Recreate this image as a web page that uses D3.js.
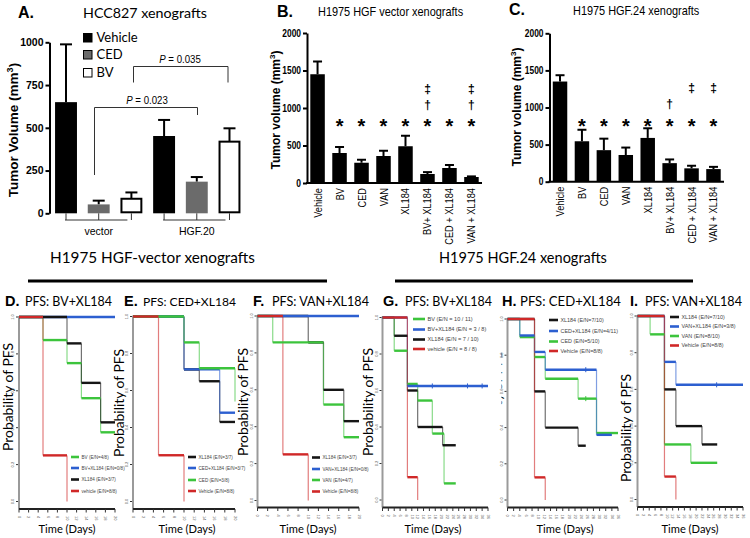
<!DOCTYPE html>
<html><head><meta charset="utf-8">
<script src="https://cdn.jsdelivr.net/npm/d3@7"></script>
<style>body{margin:0;background:#fff}svg{display:block}</style>
</head><body><svg id="c" width="750" height="538"></svg>
<script>
// ================= DATA =================
// Panel A
const aTreatments = ["Vehicle", "CED", "BV"];
const aGroups = ["vector", "HGF.20"];
const aVectorMean = [650, 52, 85];
const aVectorErr = [988, 74, 122];
const aHgfMean = [452, 185, 419];
const aHgfErr = [546, 212, 497];
const aTicks = [0, 250, 500, 750, 1000];
const aPValues = ["0.023", "0.035"];

// Panels B, C
const bcCategories = ["Vehicle", "BV", "CED", "VAN", "XL184", "BV+ XL184", "CED + XL184", "VAN + XL184"];
const bMean = [1450, 400, 270, 360, 490, 120, 200, 80];
const bErr = [1620, 480, 310, 430, 630, 145, 240, 88];
const cMean = [1350, 545, 425, 360, 590, 250, 180, 170];
const cErr = [1435, 700, 580, 460, 720, 300, 215, 200];
const bcTicks = [0, 500, 1000, 1500, 2000];
const bStar = [0, 1, 1, 1, 1, 1, 1, 1];
const bDagger = [0, 0, 0, 0, 0, 1, 0, 1];
const bDDagger = [0, 0, 0, 0, 0, 1, 0, 1];
const cStar = [0, 1, 1, 1, 1, 1, 1, 1];
const cDagger = [0, 0, 0, 0, 0, 1, 0, 0];
const cDDagger = [0, 0, 0, 0, 0, 0, 1, 1];

// Kaplan-Meier panels: [day, probability] step points
const kmTicks20 = [0, 2, 4, 6, 8, 10, 12, 14, 16, 18, 20];
const kmTicks36 = [0, 2, 4, 6, 8, 10, 12, 14, 16, 18, 20, 22, 24, 26, 28, 30, 32, 34, 36];
const kmYTicks = [0, 0.2, 0.4, 0.6, 0.8, 1.0];

const dBV = [[0, 1], [5, 0.875], [10, 0.75], [13, 0.56], [17, 0.375], [20, 0.375]];
const dBVXL = [[0, 1], [20, 1]];
const dXL = [[0, 1], [10, 0.857], [13, 0.643], [17, 0.429], [20, 0.429]];
const dVeh = [[0, 1], [5, 0.25], [10, 0]];
const dLegend = ["BV (E/N=4/8)", "BV+XL184 (E/N=0/8)", "XL184 (E/N=3/7)", "vehicle (E/N=8/8)"];

const eXL = [[0, 1], [10, 0.714], [13, 0.65], [17, 0.43], [20, 0.43]];
const eCEDXL = [[0, 1], [10, 0.714], [17, 0.48], [20, 0.48]];
const eCED = [[0, 1], [10, 0.86], [13, 0.72], [20, 0.54]];
const eVeh = [[0, 1], [5, 0.25], [10, 0]];
const eLegend = ["XL184 (E/N=3/7)", "CED+XL184 (E/N=3/7)", "CED (E/N=3/8)", "Vehicle (E/N=8/8)"];

const fXL = [[0, 1], [10, 0.857], [13, 0.6], [17, 0.43], [20, 0.43]];
const fVANXL = [[0, 1], [20, 1]];
const fVAN = [[0, 1], [3, 0.857], [13, 0.52], [17, 0.343], [20, 0.343]];
const fVeh = [[0, 1], [5, 0.25], [10, 0]];
const fLegend = ["XL184 (E/N=3/7)", "VAN+XL184 (E/N=0/8)", "VAN (E/N=4/7)", "Vehicle (E/N=8/8)"];

const gBV = [[0, 1], [4, 0.818], [8.5, 0.636], [12, 0.545], [17, 0.364], [21, 0.091], [25, 0.091]];
const gBVXL = [[0, 1], [8.5, 0.625], [36, 0.625]];
const gXL = [[0, 1], [4, 0.9], [8.5, 0.6], [12, 0.4], [20.5, 0.3], [25, 0.3]];
const gVeh = [[0, 1], [8.5, 0.125], [12, 0]];
const gCensorBVXL = [17, 29, 34];
const gLegend = ["BV (E/N = 10 / 11)", "BV+XL184 (E/N = 3 / 8)", "XL184 (E/N = 7 / 10)", "vehicle (E/N = 8 / 8)"];

const hXL = [[0, 1], [8.8, 0.6], [12.3, 0.4], [23, 0.3], [25.5, 0.3]];
const hCEDXL = [[0, 1], [4, 0.909], [8.8, 0.818], [12.3, 0.72], [29, 0.36], [34, 0.36]];
const hCED = [[0, 1], [4, 0.9], [8.8, 0.79], [12.3, 0.67], [23, 0.56], [29, 0.37], [36, 0.37]];
const hVeh = [[0, 1], [8.8, 0.125], [12.3, 0]];
const hCensorCEDXL = [25.5];
const hCensorCED = [25.5];
const hLegend = ["XL184 (E/N=7/10)", "CED+XL184 (E/N=4/11)", "CED (E/N=5/10)", "Vehicle (E/N=8/8)"];

const iXL = [[0, 1], [9.2, 0.6], [13.1, 0.4], [22, 0.3], [27.2, 0.3]];
const iVANXL = [[0, 1], [9.2, 0.75], [13.1, 0.625], [36, 0.625]];
const iVAN = [[0, 1], [4.3, 0.9], [9.2, 0.3], [18.2, 0.2], [27.2, 0.2]];
const iVeh = [[0, 1], [9.2, 0.125], [13.1, 0]];
const iCensorVANXL = [27];
const iLegend = ["XL184 (E/N=7/10)", "VAN+XL184 (E/N=3/8)", "VAN (E/N=8/10)", "Vehicle (E/N=8/8)"];

// ================= DRAWING =================
const ARIAL = "'Liberation Sans', Arial, sans-serif";
const NARROW = "'Liberation Sans Narrow', 'Arial Narrow', 'Liberation Sans', sans-serif";
const CAL = "Lato, 'Open Sans', sans-serif";
const GREEN = "#3cc43c", BLUE = "#2c5fd0", BLACK = "#151515", RED = "#d02828";

const svg = d3.select("#c");
svg.append("rect").attr("width", 750).attr("height", 538).attr("fill", "#fff");

// fit a text's font size so that its natural width equals target
function fit(t, target) {
  const fs = +t.attr("font-size");
  const w = t.node().getComputedTextLength();
  if (w > 0) t.attr("font-size", (fs * target / w).toFixed(2));
  return t;
}
// horizontal condensation (for the narrow font when it is missing)
let NARROW_FACTOR = 1;
(function () {
  const probe = svg.append("text").attr("font-family", NARROW).attr("font-size", 11).text("Vehicle");
  const w = probe.node().getComputedTextLength();
  NARROW_FACTOR = w > 31 ? 0.84 : 1;
  probe.remove();
})();
function condense(t) {
  if (NARROW_FACTOR < 1) {
    const w = t.node().getComputedTextLength();
    t.attr("textLength", (w * NARROW_FACTOR).toFixed(1)).attr("lengthAdjust", "spacingAndGlyphs");
  }
  return t;
}

function txt(g, x, y, s, o = {}) {
  const t = g.append("text").attr("x", x).attr("y", y).text(s)
    .attr("font-family", o.ff || ARIAL).attr("font-size", o.fs || 12)
    .attr("fill", o.fill || "#000");
  if (o.fw) t.attr("font-weight", o.fw);
  if (o.anchor) t.attr("text-anchor", o.anchor);
  if (o.fit) fit(t, o.fit);
  return t;
}
function vlabel(g, cx, cy, fs, o = {}) {
  return g.append("text").attr("transform", `translate(${cx + fs * 0.36},${cy}) rotate(-90)`)
    .attr("text-anchor", "middle").attr("font-family", o.ff || ARIAL).attr("font-size", fs)
    .attr("font-weight", o.fw || null).attr("fill", o.fill || "#000");
}

// ---------- Panel A ----------
(function () {
  const g = svg.append("g");
  txt(g, 18, 18, "A.", { fs: 16, fw: "bold" });
  txt(g, 83, 18, "HCC827 xenografts", { ff: CAL, fs: 15, fit: 124 });
  const rows = [];
  aGroups.forEach((grp, gi) => aTreatments.forEach((t, ti) => rows.push({
    key: grp + "|" + t, grp, t,
    mean: gi === 0 ? aVectorMean[ti] : aHgfMean[ti],
    err: gi === 0 ? aVectorErr[ti] : aHgfErr[ti]
  })));
  const x = d3.scaleBand().domain(rows.map(d => d.key)).range([49.5, 246]).paddingInner(0.33).paddingOuter(0.17);
  const y = d3.scaleLinear().domain([0, 1000]).range([213.3, 42.3]);
  const fills = { Vehicle: "#000", CED: "#6b6b6b", BV: "#fff" };
  const bw = x.bandwidth();
  rows.forEach(d => {
    const cx = x(d.key) + bw / 2;
    g.append("line").attr("x1", cx).attr("x2", cx).attr("y1", y(d.mean)).attr("y2", y(d.err)).attr("stroke", "#000").attr("stroke-width", 2);
    g.append("line").attr("x1", cx - 6).attr("x2", cx + 6).attr("y1", y(d.err)).attr("y2", y(d.err)).attr("stroke", "#000").attr("stroke-width", 2);
  });
  g.selectAll("rect.bar").data(rows).join("rect")
    .attr("x", d => x(d.key) + (d.t === "BV" ? 1 : 0)).attr("width", d => bw - (d.t === "BV" ? 2 : 0))
    .attr("y", d => y(d.mean)).attr("height", d => y(0) - y(d.mean) - (d.t === "BV" ? 1 : 0))
    .attr("fill", d => fills[d.t]).attr("stroke", d => d.t === "BV" ? "#000" : "none").attr("stroke-width", 2);
  const ax = g.append("g").attr("transform", "translate(49.5,0)")
    .call(d3.axisLeft(y).tickValues(aTicks).tickFormat(d3.format("d")).tickSize(4).tickSizeOuter(0).tickPadding(2));
  ax.select(".domain").attr("stroke-width", 2);
  ax.selectAll(".tick line").attr("stroke-width", 2);
  ax.selectAll("text").attr("font-family", ARIAL).attr("font-size", 10.5).attr("font-weight", "bold").attr("fill", "#000");
  aGroups.forEach(grp => {
    const ks = rows.filter(r => r.grp === grp);
    const xs = ks.map(r => x(r.key) + bw / 2);
    xs.forEach(cx => g.append("line").attr("x1", cx).attr("x2", cx).attr("y1", 213.3).attr("y2", 220).attr("stroke", "#333").attr("stroke-width", 1));
    g.append("line").attr("x1", xs[0] - 1).attr("x2", xs[xs.length - 1] - 4).attr("y1", 220).attr("y2", 220).attr("stroke", "#333").attr("stroke-width", 1);
    txt(g, (xs[0] + xs[xs.length - 1]) / 2, 235, grp, { fs: 10.5, anchor: "middle" });
  });
  const yl = vlabel(g, 13, 130, 13.5, { fw: "bold" });
  yl.append("tspan").text("Tumor Volume (mm");
  yl.append("tspan").text("3").attr("font-size", 9).attr("dy", -5);
  yl.append("tspan").text(")").attr("dy", 5);
  const legFill = ["#000", "#6b6b6b", "#fff"];
  aTreatments.forEach((name, i) => {
    const yy = [33.5, 50.5, 68.5][i];
    g.append("rect").attr("x", 83.5).attr("y", yy).attr("width", 8.5).attr("height", 8.5).attr("fill", legFill[i]).attr("stroke", "#000").attr("stroke-width", 1);
    txt(g, 96.5, yy + 8.5, name, { ff: CAL, fs: 13 });
  });
  const br = (x1, x2, top, l, r) => g.append("path").attr("d", `M${x1},${l}V${top}H${x2}V${r}`).attr("fill", "none").attr("stroke", "#333").attr("stroke-width", 1);
  br(133.5, 228, 66.5, 82.5, 82.5);
  br(94.5, 197.5, 107.5, 175, 115);
  [[aPValues[1], 180, 63], [aPValues[0], 147, 104]].forEach(p => {
    const t = g.append("text").attr("x", p[1]).attr("y", p[2]).attr("text-anchor", "middle").attr("font-family", NARROW).attr("font-size", 11.5);
    t.append("tspan").text("P").attr("font-style", "italic");
    t.append("tspan").text(" = " + p[0]);
    condense(t);
  });
})();

// ---------- Panels B, C ----------
function barPanel(o) {
  const g = svg.append("g");
  txt(g, o.letterX, o.letterY, o.letter, { fs: 16, fw: "bold" });
  condense(txt(g, o.titleX, o.titleY, o.title, { ff: NARROW, fs: 13 }));
  const x = d3.scaleBand().domain(bcCategories).range([o.x0, o.x1]).paddingInner(0.34).paddingOuter(0.15);
  const y = d3.scaleLinear().domain([0, 2000]).range([o.y0, o.y1]);
  const bw = x.bandwidth();
  bcCategories.forEach((c, i) => {
    const cx = x(c) + bw / 2;
    g.append("line").attr("x1", cx).attr("x2", cx).attr("y1", y(o.mean[i])).attr("y2", y(o.err[i])).attr("stroke", "#000").attr("stroke-width", 2);
    g.append("line").attr("x1", cx - 4.5).attr("x2", cx + 4.5).attr("y1", y(o.err[i])).attr("y2", y(o.err[i])).attr("stroke", "#000").attr("stroke-width", 2);
  });
  g.selectAll("rect.bar").data(bcCategories).join("rect")
    .attr("x", c => x(c)).attr("width", bw)
    .attr("y", (c, i) => y(o.mean[i])).attr("height", (c, i) => y(0) - y(o.mean[i])).attr("fill", "#000");
  const ax = g.append("g").attr("transform", `translate(${o.x0},0)`)
    .call(d3.axisLeft(y).tickValues(bcTicks).tickFormat(d3.format("d")).tickSize(4).tickSizeOuter(0).tickPadding(2));
  ax.select(".domain").attr("stroke-width", 2);
  ax.selectAll(".tick line").attr("stroke-width", 2);
  ax.selectAll("text").attr("font-family", ARIAL).attr("font-size", 10).attr("font-weight", "bold").attr("fill", "#000");
  ax.selectAll("text").each(function () { condense(d3.select(this)); });
  g.append("line").attr("x1", o.x0 - 1).attr("x2", o.x1).attr("y1", y(0)).attr("y2", y(0)).attr("stroke", "#000").attr("stroke-width", 2);
  bcCategories.forEach(c => {
    const cx = x(c) + bw / 2;
    const t = g.append("text").attr("transform", `translate(${cx + 4},${y(0) + 5}) rotate(-90)`)
      .attr("text-anchor", "end").attr("font-family", NARROW).attr("font-size", 11).text(c);
    condense(t);
  });
  bcCategories.forEach((c, i) => {
    const cx = x(c) + bw / 2;
    if (o.star[i]) txt(g, cx, y(810) + 11, "*", { fs: 20, fw: "bold", anchor: "middle" });
    if (o.dag[i]) txt(g, cx, y(1050) + 4.5, "†", { fs: 12, fw: "bold", anchor: "middle" });
    if (o.ddag[i]) txt(g, cx, y(1265) + 4.5, "‡", { fs: 12, fw: "bold", anchor: "middle" });
  });
  const yl = vlabel(g, o.ylabX, o.ylabY, 12, { fw: "bold" });
  yl.append("tspan").text("Tumor volume (mm");
  yl.append("tspan").text("3").attr("font-size", 8).attr("dy", -5);
  yl.append("tspan").text(")").attr("dy", 5);
}
barPanel({ letter: "B.", letterX: 277, letterY: 17, title: "H1975 HGF vector xenografts", titleX: 318, titleY: 16,
  x0: 307, x1: 482, y0: 183, y1: 33, mean: bMean, err: bErr, star: bStar, dag: bDagger, ddag: bDDagger, ylabX: 276, ylabY: 110 });
barPanel({ letter: "C.", letterX: 509, letterY: 15, title: "H1975 HGF.24 xenografts", titleX: 573, titleY: 15,
  x0: 549.5, x1: 724, y0: 181.7, y1: 33.3, mean: cMean, err: cErr, star: cStar, dag: cDagger, ddag: cDDagger, ylabX: 517, ylabY: 107 });

// ---------- section headers ----------
txt(svg, 50, 263, "H1975 HGF-vector  xenografts", { ff: CAL, fs: 16, fit: 205 });
svg.append("line").attr("x1", 28).attr("x2", 327).attr("y1", 281).attr("y2", 281).attr("stroke", "#000").attr("stroke-width", 3);
txt(svg, 439, 263, "H1975 HGF.24 xenografts", { ff: CAL, fs: 16, fit: 168 });
svg.append("line").attr("x1", 395).attr("x2", 693).attr("y1", 281).attr("y2", 281).attr("stroke", "#000").attr("stroke-width", 3);

// ---------- KM panels ----------
const defs = svg.append("defs");
defs.append("clipPath").attr("id", "clipH").append("rect").attr("x", 0).attr("y", 0).attr("width", 500).attr("height", 538);

function kmPanel(o) {
  const g = svg.append("g");
  txt(g, o.lx, 306, o.letter, { fs: 14.5, fw: "bold" });
  txt(g, o.tx, 306, o.title, { ff: CAL, fs: 15, fit: o.tlen });
  const x = d3.scaleLinear().domain([0, o.maxDay]).range([o.x0, o.x1]);
  const y = d3.scaleLinear().domain([0, 1]).range([o.yBot, o.yTop]);
  const yl = vlabel(g, o.ylx, o.yly, 12.5, { ff: CAL });
  yl.text("Probability of PFS");
  fit(yl, 108);
  if (o.clip) yl.attr("clip-path", "url(#" + o.clip + ")");
  g.append("line").attr("x1", o.x0).attr("x2", o.x0).attr("y1", o.yTop - 1).attr("y2", o.axisY).attr("stroke", "#9a9a9a").attr("stroke-width", 2);
  kmYTicks.forEach(v => {
    g.append("line").attr("x1", o.x0 - 3).attr("x2", o.x0 - 1).attr("y1", y(v)).attr("y2", y(v)).attr("stroke", "#333").attr("stroke-width", 1);
    g.append("text").attr("transform", `translate(${o.x0 - 5},${y(v)}) rotate(-90)`).attr("text-anchor", "middle")
      .attr("font-family", ARIAL).attr("font-size", 4).attr("fill", "#555").text(v.toFixed(1));
  });
  g.append("line").attr("x1", o.x0).attr("x2", o.x1).attr("y1", o.axisY).attr("y2", o.axisY).attr("stroke", "#222").attr("stroke-width", 2.2);
  o.ticks.forEach(t => {
    g.append("line").attr("x1", x(t)).attr("x2", x(t)).attr("y1", o.axisY).attr("y2", o.axisY + 3.5).attr("stroke", "#333").attr("stroke-width", 1);
    g.append("text").attr("transform", `translate(${x(t) - 1.3},${o.axisY + 7}) rotate(90)`).attr("text-anchor", "start")
      .attr("font-family", ARIAL).attr("font-size", 4).attr("fill", "#555").text(t);
  });
  txt(g, o.timeX, 533, "Time (Days)", { ff: CAL, fs: 13, anchor: "middle", fit: 57 });
  o.series.forEach(([pts, col]) => {
    for (let i = 0; i < pts.length - 1; i++) {
      if (pts[i][1] !== pts[i + 1][1])
        g.append("line").attr("x1", x(pts[i + 1][0])).attr("x2", x(pts[i + 1][0]))
          .attr("y1", y(pts[i][1])).attr("y2", y(pts[i + 1][1])).attr("stroke", col).attr("stroke-width", 1.2).attr("opacity", 0.6);
    }
  });
  o.series.forEach(([pts, col]) => {
    for (let i = 0; i < pts.length - 1; i++) {
      g.append("line").attr("x1", x(pts[i][0])).attr("x2", x(pts[i + 1][0]))
        .attr("y1", y(pts[i][1])).attr("y2", y(pts[i][1])).attr("stroke", col).attr("stroke-width", 2.4);
    }
  });
  (o.censor || []).forEach(([days, pts, col]) => {
    days.forEach(dd => {
      let p = pts[0][1];
      pts.forEach(q => { if (q[0] <= dd) p = q[1]; });
      g.append("line").attr("x1", x(dd)).attr("x2", x(dd)).attr("y1", y(p) - 2.5).attr("y2", y(p) + 2.5).attr("stroke", col).attr("stroke-width", 1);
    });
  });
  o.legend.forEach(([label, col], i) => {
    const yy = o.legYs[i];
    g.append("line").attr("x1", o.legX).attr("x2", o.legX + o.legW).attr("y1", yy).attr("y2", yy).attr("stroke", col).attr("stroke-width", 2.6);
    txt(g, o.legX + o.legW + 2.5, yy + o.legFs * 0.35, label, { fs: o.legFs, fill: "#444" });
  });
}

kmPanel({ letter: "D.", lx: 5, title: "PFS: BV+XL184", tx: 25, tlen: 87,
  x0: 19, x1: 115, maxDay: 20, yTop: 317, yBot: 501.5, axisY: 509, ticks: kmTicks20, timeX: 67, ylx: 8, yly: 397,
  series: [[dBVXL, BLUE], [dBV, GREEN], [dXL, BLACK], [dVeh, RED]],
  legend: [[dLegend[0], GREEN], [dLegend[1], BLUE], [dLegend[2], BLACK], [dLegend[3], RED]],
  legX: 71, legW: 8, legYs: [457, 468, 479.5, 491], legFs: 4.6 });
kmPanel({ letter: "E.", lx: 124, title: "PFS: CED+XL184", tx: 143, tlen: 93,
  x0: 133, x1: 235, maxDay: 20, yTop: 316.5, yBot: 501.5, axisY: 509, ticks: kmTicks20, timeX: 187, ylx: 119, yly: 403,
  series: [[eXL, BLACK], [eCEDXL, BLUE], [eCED, GREEN], [eVeh, RED]],
  legend: [[eLegend[0], BLACK], [eLegend[1], BLUE], [eLegend[2], GREEN], [eLegend[3], RED]],
  legX: 188, legW: 8, legYs: [457, 468, 480, 491], legFs: 4.6 });
kmPanel({ letter: "F.", lx: 253, title: "PFS: VAN+XL184", tx: 272, tlen: 97,
  x0: 257.5, x1: 359, maxDay: 20, yTop: 316, yBot: 500.5, axisY: 507.5, ticks: kmTicks20, timeX: 308, ylx: 243, yly: 402,
  series: [[fXL, BLACK], [fVANXL, BLUE], [fVAN, GREEN], [fVeh, RED]],
  legend: [[fLegend[0], BLACK], [fLegend[1], BLUE], [fLegend[2], GREEN], [fLegend[3], RED]],
  legX: 312, legW: 8, legYs: [457.5, 469, 480, 491.5], legFs: 4.6 });
kmPanel({ letter: "G.", lx: 383, title: "PFS: BV+XL184", tx: 405, tlen: 87,
  x0: 382.5, x1: 488, maxDay: 36, yTop: 317.5, yBot: 500, axisY: 507.5, ticks: kmTicks36, timeX: 433, ylx: 368, yly: 402,
  series: [[gXL, BLACK], [gBV, GREEN], [gBVXL, BLUE], [gVeh, RED]],
  censor: [[gCensorBVXL, gBVXL, BLUE]],
  legend: [[gLegend[0], GREEN], [gLegend[1], BLUE], [gLegend[2], BLACK], [gLegend[3], RED]],
  legX: 413, legW: 12, legYs: [319, 329.5, 339.5, 349], legFs: 5.6 });
kmPanel({ letter: "H.", lx: 502, title: "PFS: CED+XL184", tx: 520, tlen: 101,
  x0: 507.5, x1: 618, maxDay: 36, yTop: 319, yBot: 500, axisY: 507.5, ticks: kmTicks36, timeX: 565, ylx: 497, yly: 405, clip: "clipH",
  series: [[hXL, BLACK], [hCED, GREEN], [hCEDXL, BLUE], [hVeh, RED]],
  censor: [[hCensorCEDXL, hCEDXL, BLUE], [hCensorCED, hCED, GREEN]],
  legend: [[hLegend[0], BLACK], [hLegend[1], BLUE], [hLegend[2], GREEN], [hLegend[3], RED]],
  legX: 549, legW: 9, legYs: [320, 331, 341.5, 351], legFs: 5.4 });
kmPanel({ letter: "I.", lx: 630, title: "PFS: VAN+XL184", tx: 645, tlen: 97,
  x0: 637.5, x1: 743, maxDay: 36, yTop: 316, yBot: 499.5, axisY: 507, ticks: kmTicks36, timeX: 690, ylx: 626, yly: 428,
  series: [[iXL, BLACK], [iVAN, GREEN], [iVANXL, BLUE], [iVeh, RED]],
  censor: [[iCensorVANXL, iVANXL, BLUE]],
  legend: [[iLegend[0], BLACK], [iLegend[1], BLUE], [iLegend[2], GREEN], [iLegend[3], RED]],
  legX: 670, legW: 9, legYs: [317, 326.5, 336, 345.5], legFs: 5.4 });
</script></body></html>
